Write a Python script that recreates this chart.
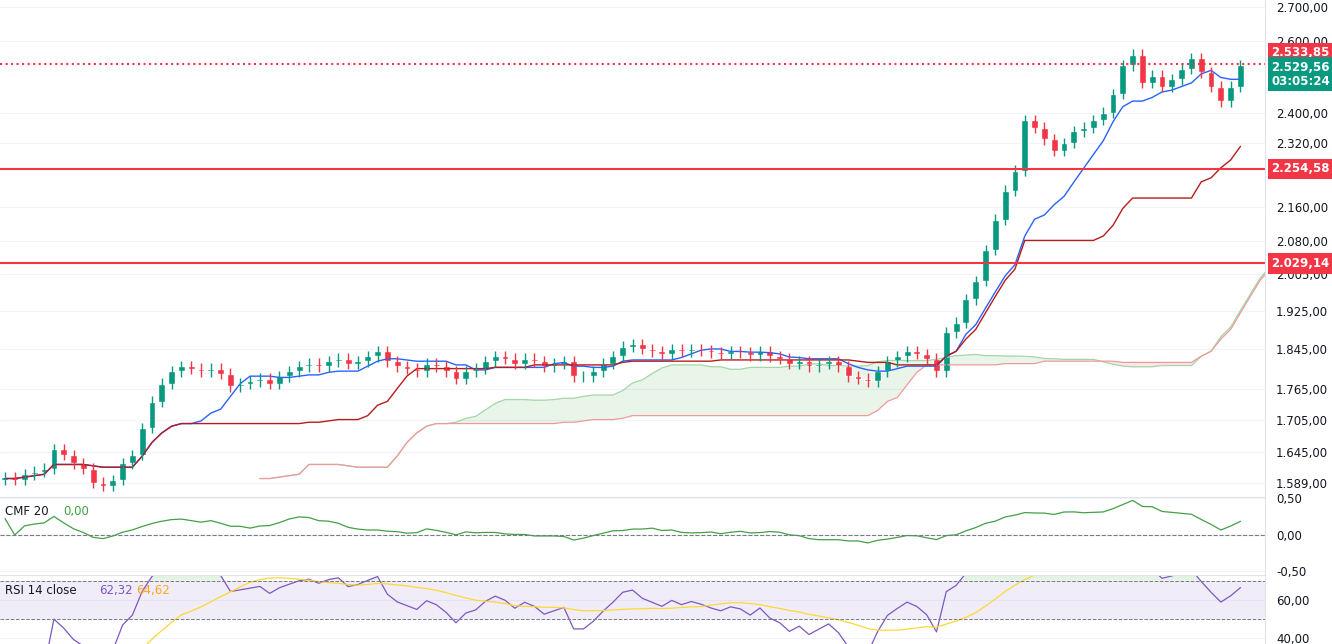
import numpy as np, pandas as pd, matplotlib
matplotlib.use("Agg")
import matplotlib.pyplot as plt, seaborn as sns
from matplotlib.ticker import FixedLocator, FuncFormatter, NullLocator

closes = [1600,1595,1605,1610,1615,1650,1640,1625,1615,1590,1585,1595,1625,1640,1690,1740,1775,1800,1810,1805,
          1800,1805,1795,1770,1775,1780,1785,1775,1790,1800,1810,1815,1810,1820,1825,1815,1820,1830,1840,1820,
          1810,1805,1800,1815,1810,1800,1785,1800,1805,1820,1830,1825,1815,1825,1820,1810,1815,1820,1790,1790,
          1800,1815,1830,1850,1855,1845,1840,1835,1845,1840,1845,1842,1838,1835,1840,1838,1832,1840,1830,1825,
          1815,1820,1810,1815,1820,1810,1790,1785,1780,1800,1820,1830,1840,1835,1825,1800,1880,1900,1950,1990,
          2060,2130,2200,2250,2380,2360,2330,2300,2320,2350,2360,2380,2400,2450,2530,2560,2480,2500,2470,2490,
          2520,2550,2510,2470,2430,2470,2530]
levels = [2533.85, 2254.58, 2029.14]
price_ticks = [2700,2600,2400,2320,2160,2080,2005,1925,1845,1765,1705,1645,1589]
last_price, timer = 2529.56, "03:05:24"

def eu(v, d=2):
    s = f"{v:,.{d}f}"
    return s.replace(",", "X").replace(".", ",").replace("X", ".")

sns.set_style("white")
c = pd.Series(closes, dtype=float)
o = c.shift(1).fillna(c.iloc[0] - 5)
hi = np.maximum(o, c) * 1.006
lo = np.minimum(o, c) * 0.994
x = np.arange(len(c))
df = pd.DataFrame({"x": x, "o": o, "c": c, "h": hi, "l": lo})

mid = lambda n: (df.h.rolling(n, 1).max() + df.l.rolling(n, 1).min()) / 2
tenkan, kijun = mid(9), mid(26)
spanA = ((tenkan + kijun) / 2)
spanB = mid(52)
xf = x + 26

d = c.diff()
up = d.clip(lower=0).ewm(alpha=1/14, adjust=False).mean()
dn = (-d.clip(upper=0)).ewm(alpha=1/14, adjust=False).mean()
rsi = 100 - 100 / (1 + up / dn)
rsi_ma = rsi.rolling(14, 1).mean()
mfm = ((c - lo) - (hi - c)) / (hi - lo)
cmf = mfm.rolling(20, 1).mean() * 1.1

fig = plt.figure(figsize=(13.32, 6.44), dpi=100)
W = 1265 / 1332
ax = fig.add_axes([0, 147/644, W, 497/644])
ax2 = fig.add_axes([0, 69/644, W, 78/644])
ax3 = fig.add_axes([0, 0, W, 69/644])
green, red = "#089981", "#f23645"
xl = (-0.5, 128.5)

for a in (ax, ax2, ax3):
    a.set_xlim(*xl)
    a.xaxis.set_major_locator(NullLocator())
    a.yaxis.tick_right()
    a.tick_params(axis="y", length=0, labelsize=8.5, colors="#131722", pad=8)
    a.grid(True, color="#f0f3fa", lw=0.8)
    for s in a.spines.values(): s.set_visible(False)
    a.spines["right"].set_visible(True); a.spines["right"].set_color("#e0e3eb")
ax2.spines["top"].set_visible(True); ax2.spines["top"].set_color("#e0e3eb")
ax3.spines["top"].set_visible(True); ax3.spines["top"].set_color("#e0e3eb")

ax.fill_between(xf, spanA, spanB, where=spanA >= spanB, color="#4caf50", alpha=0.12, interpolate=True, lw=0)
ax.fill_between(xf, spanA, spanB, where=spanA < spanB, color="#f23645", alpha=0.12, interpolate=True, lw=0)
ax.plot(xf, spanA, color="#a5d6a7", lw=0.9)
ax.plot(xf, spanB, color="#ef9a9a", lw=0.9)
ax.plot(x, tenkan, color="#2962ff", lw=1)
ax.plot(x, kijun, color="#b71c1c", lw=1)

col = np.where(df.c >= df.o, green, red)
ax.vlines(x, df.l, df.h, color=col, lw=1)
ax.bar(x, (df.c - df.o).abs().clip(lower=2), bottom=np.minimum(df.o, df.c), width=0.7, color=col)

ax.set_yscale("log")
ax.set_ylim(1565, 2720)
ax.yaxis.set_major_locator(FixedLocator(price_ticks))
ax.yaxis.set_minor_locator(NullLocator())
ax.yaxis.set_major_formatter(FuncFormatter(lambda v, p: eu(v)))
label_pos = [2565, 2254.58, 2029.14]
for i, L in enumerate(levels):
    ax.axhline(L, color=red, lw=1.5, ls=":" if i == 0 else "-")
    ax.text(1.005, label_pos[i], eu(L), transform=ax.get_yaxis_transform(), va="center", ha="left", fontsize=8.5,
            color="white", fontweight="bold", bbox=dict(boxstyle="square,pad=0.3", fc=red, ec="none"), clip_on=False)
ax.text(1.005, 2505, eu(last_price) + "\n" + timer, transform=ax.get_yaxis_transform(), va="center", ha="left",
        fontsize=8.5, color="white", fontweight="bold", linespacing=1.1,
        bbox=dict(boxstyle="square,pad=0.3", fc=green, ec="none"), clip_on=False)

sns.lineplot(x=x, y=cmf, ax=ax2, color="#43a047", lw=0.9)
ax2.axhline(0, color="#787b86", ls="--", lw=0.8)
ax2.set_ylim(-0.55, 0.52)
ax2.yaxis.set_major_locator(FixedLocator([0.5, 0, -0.5]))
ax2.yaxis.set_major_formatter(FuncFormatter(lambda v, p: eu(v)))
ax2.set_ylabel(""); ax2.set_xlabel("")
ax2.text(0.004, 0.82, "CMF 20", transform=ax2.transAxes, fontsize=8.5, color="#131722", va="center")
ax2.text(0.05, 0.82, "0,00", transform=ax2.transAxes, fontsize=8.5, color="#43a047", va="center")

ax3.axhspan(50, 70, color="#7e57c2", alpha=0.1, lw=0)
ax3.fill_between(x, 70, rsi, where=rsi > 70, color="#4caf50", alpha=0.15, interpolate=True, lw=0)
sns.lineplot(x=x, y=rsi, ax=ax3, color="#7e57c2", lw=0.9)
sns.lineplot(x=x, y=rsi_ma, ax=ax3, color="#fdd835", lw=0.9)
for lv in (70, 50):
    ax3.axhline(lv, color="#787b86", ls="--", lw=0.7)
ax3.set_ylim(37, 73)
ax3.yaxis.set_major_locator(FixedLocator([60, 40]))
ax3.yaxis.set_major_formatter(FuncFormatter(lambda v, p: eu(v)))
ax3.set_ylabel(""); ax3.set_xlabel("")
ax3.text(0.004, 0.78, "RSI 14 close", transform=ax3.transAxes, fontsize=8.5, color="#131722", va="center")
ax3.text(0.078, 0.78, "62,32", transform=ax3.transAxes, fontsize=8.5, color="#7e57c2", va="center")
ax3.text(0.108, 0.78, "64,62", transform=ax3.transAxes, fontsize=8.5, color="#f9a825", va="center")

fig.savefig("out.png", dpi=100)
